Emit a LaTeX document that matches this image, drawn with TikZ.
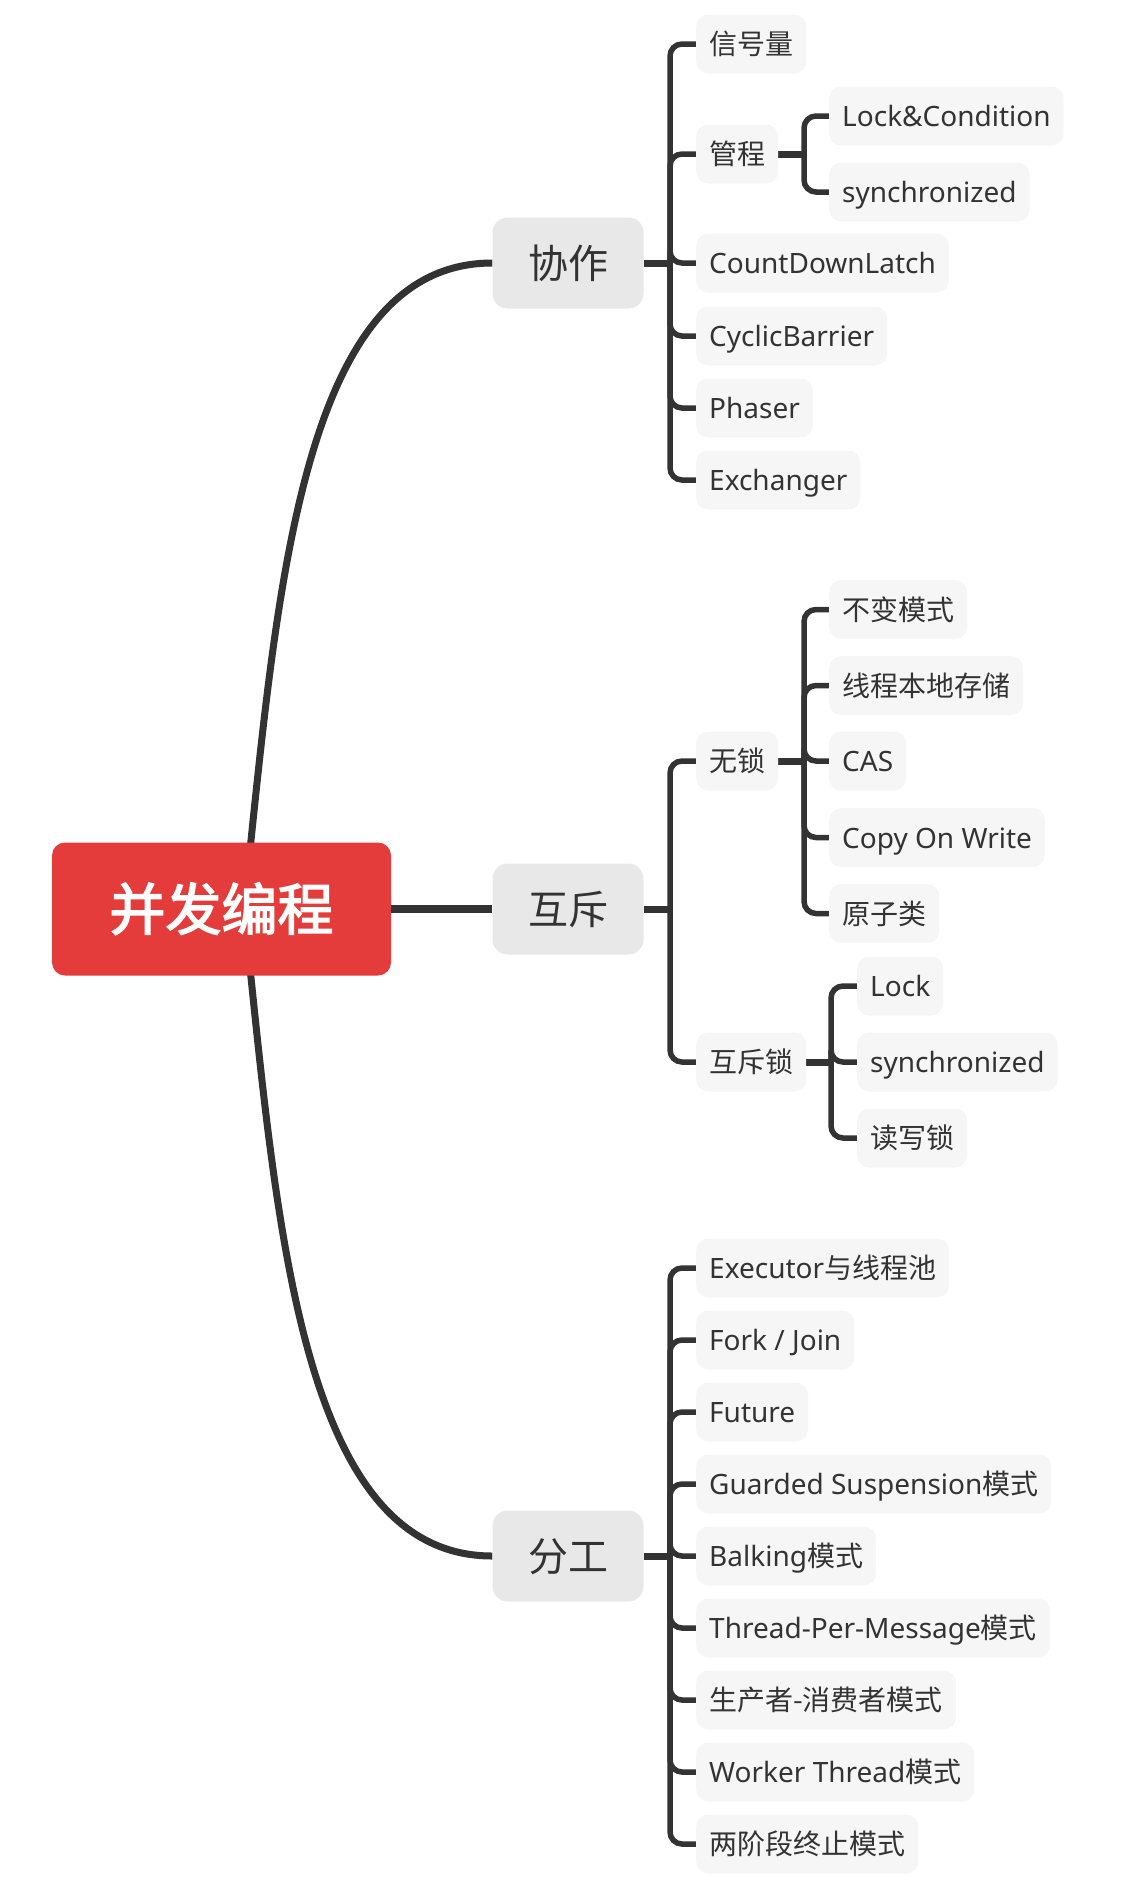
\documentclass[tikz,border=0pt]{standalone}
\usepackage{fontspec}
\setmainfont{Noto Sans}
\newfontfamily\cjk{Noto Sans CJK SC}
\newfontfamily\cjkroot[FakeBold=2.6]{Noto Sans CJK SC}
\usetikzlibrary{backgrounds}
\definecolor{ink}{HTML}{333333}
\definecolor{rootred}{HTML}{E33C3A}
\definecolor{topicfill}{HTML}{E8E8E8}
\definecolor{leaffill}{HTML}{F6F6F6}
\tikzset{
  leaf/.style={rectangle, rounded corners=12pt, fill=leaffill, text=ink, anchor=west,
    minimum height=59pt, inner xsep=13pt, inner ysep=0pt,
    font=\fontsize{28pt}{30pt}\selectfont, text height=23pt, text depth=2pt},
  topic/.style={rectangle, rounded corners=15pt, fill=topicfill, text=ink,
    minimum width=151pt, minimum height=91pt, inner sep=0pt,
    font=\fontsize{40pt}{44pt}\selectfont, text height=32pt, text depth=2pt},
  rootbox/.style={rectangle, rounded corners=13pt, fill=rootred, text=white,
    minimum width=339pt, minimum height=133pt, inner sep=0pt,
    font=\fontsize{56pt}{60pt}\selectfont, text height=44pt, text depth=2pt},
  brline/.style={draw=ink, line width=5.5pt, rounded corners=12pt},
  stubline/.style={draw=ink, line width=7pt},
  rootline/.style={draw=ink, line width=7pt},
  mainline/.style={draw=ink, line width=8pt}
}
\begin{document}
\begin{tikzpicture}[x=1pt,y=-1pt]
\useasboundingbox (0,0) rectangle (1120,1882);
% root and topics
\node[rootbox] (root) at (221.5,909) {\cjkroot 并发编程};
\node[topic] (xz) at (568,263) {\cjk 协作};
\node[topic] (hc) at (568,909) {\cjk 互斥};
\node[topic] (fg) at (568,1556) {\cjk 分工};
% 协作 children
\node[leaf] (a1) at (696,44) {\cjk 信号量};
\node[leaf] (a2) at (696,154) {\cjk 管程};
\node[leaf] (a3) at (696,263) {CountDownLatch};
\node[leaf] (a4) at (696,336) {CyclicBarrier};
\node[leaf] (a5) at (696,408) {Phaser};
\node[leaf] (a6) at (696,480) {Exchanger};
\node[leaf] (b1) at (829,116) {Lock\&Condition};
\node[leaf] (b2) at (829,192) {synchronized};
% 互斥 children
\node[leaf] (c1) at (696,761) {\cjk 无锁};
\node[leaf] (c2) at (696,1062) {\cjk 互斥锁};
\node[leaf] (d1) at (829,609.5) {\cjk 不变模式};
\node[leaf] (d2) at (829,685.5) {\cjk 线程本地存储};
\node[leaf] (d3) at (829,761) {CAS};
\node[leaf] (d4) at (829,837.5) {Copy On Write};
\node[leaf] (d5) at (829,913.5) {\cjk 原子类};
\node[leaf] (e1) at (857,986) {Lock};
\node[leaf] (e2) at (857,1062) {synchronized};
\node[leaf] (e3) at (857,1138) {\cjk 读写锁};
% 分工 children
\node[leaf] (f1) at (696,1268) {Executor{\cjk 与线程池}};
\node[leaf] (f2) at (696,1340) {Fork / Join};
\node[leaf] (f3) at (696,1412) {Future};
\node[leaf] (f4) at (696,1484) {Guarded Suspension{\cjk 模式}};
\node[leaf] (f5) at (696,1556) {Balking{\cjk 模式}};
\node[leaf] (f6) at (696,1628) {Thread-Per-Message{\cjk 模式}};
\node[leaf] (f7) at (696,1700) {\cjk 生产者-消费者模式};
\node[leaf] (f8) at (696,1772) {Worker Thread{\cjk 模式}};
\node[leaf] (f9) at (696,1844) {\cjk 两阶段终止模式};
% junctions
\coordinate (jxz) at (670,263);
\coordinate (jgc) at (804,154);
\coordinate (jhc) at (670,909);
\coordinate (jwl) at (804,761);
\coordinate (jhs) at (831,1062);
\coordinate (jfg) at (670,1556);
\coordinate (rt) at (250,850);
\coordinate (rb) at (250,968);
\begin{scope}[on background layer]
  \draw[rootline] (rt) .. controls (280,560) and (310,263) .. (xz.west);
  \draw[rootline] (rb) .. controls (280,1258) and (310,1556) .. (fg.west);
  \draw[mainline] (root.east) -- (hc.west);
  % 协作
  \draw[stubline] (xz.east) -- (jxz);
  \foreach \c in {a1,a2,a3,a4,a5,a6} \draw[brline] (jxz) |- (\c.west);
  \draw[stubline] (a2.east) -- (jgc);
  \foreach \c in {b1,b2} \draw[brline] (jgc) |- (\c.west);
  % 互斥
  \draw[stubline] (hc.east) -- (jhc);
  \foreach \c in {c1,c2} \draw[brline] (jhc) |- (\c.west);
  \draw[stubline] (c1.east) -- (jwl);
  \foreach \c in {d1,d2,d3,d4,d5} \draw[brline] (jwl) |- (\c.west);
  \draw[stubline] (c2.east) -- (jhs);
  \foreach \c in {e1,e2,e3} \draw[brline] (jhs) |- (\c.west);
  % 分工
  \draw[stubline] (fg.east) -- (jfg);
  \foreach \c in {f1,f2,f3,f4,f5,f6,f7,f8,f9} \draw[brline] (jfg) |- (\c.west);
\end{scope}
\end{tikzpicture}
\end{document}
